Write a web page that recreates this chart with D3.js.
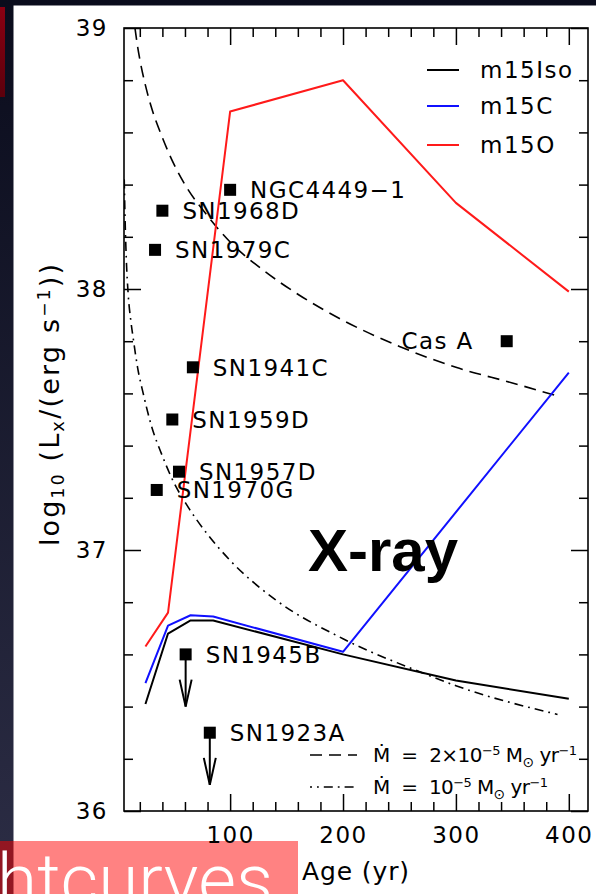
<!DOCTYPE html>
<html><head><meta charset="utf-8">
<script src="https://cdn.jsdelivr.net/npm/d3@7"></script>
<style>
html,body{margin:0;padding:0;background:#0b0d1e;}
svg{display:block;}
</style></head>
<body>
<script>
// ---------- DATA ----------
const xTickLabels = [100, 200, 300, 400];
const yTickLabels = [36, 37, 38, 39];

const seriesNames = ["m15Iso", "m15C", "m15O"];
const seriesColors = ["#000000", "#1010ff", "#ff1a1a"];

const ages_m15Iso = [25, 45, 65, 85, 200, 300, 400];
const lx_m15Iso   = [36.41, 36.68, 36.73, 36.73, 36.60, 36.50, 36.43];

const ages_m15C = [25, 45, 65, 85, 200, 400];
const lx_m15C   = [36.49, 36.71, 36.75, 36.745, 36.61, 37.68];

const ages_m15O = [25, 45, 100, 200, 300, 400];
const lx_m15O   = [36.63, 36.76, 38.68, 38.80, 38.33, 37.99];

// Mdot = 2e-5 Msun/yr (dashed)
const ages_md2 = [15.7, 18, 20, 25, 30, 40, 50, 60, 80, 100, 130, 160, 200, 250, 300, 350, 390];
const lx_md2   = [39.0, 38.93, 38.88, 38.78, 38.70, 38.58, 38.48, 38.40, 38.28, 38.18, 38.07, 37.98, 37.88, 37.78, 37.70, 37.64, 37.59];

// Mdot = 1e-5 Msun/yr (dash-dot)
const ages_md1 = [6.2, 7, 8, 9.7, 12, 14.2, 18, 23, 30, 40, 50, 62, 80, 100, 140, 200, 270, 300, 390];
const lx_md1   = [38.42, 38.26, 38.12, 37.98, 37.88, 37.81, 37.70, 37.60, 37.48, 37.36, 37.26, 37.17, 37.06, 36.96, 36.81, 36.66, 36.53, 36.48, 36.37];

// Observed supernovae
const snNames = ["NGC4449\u22121", "SN1968D", "SN1979C", "SN1941C", "SN1959D", "SN1957D", "SN1970G", "Cas A", "SN1945B", "SN1923A"];
const snAges  = [100, 40, 33.5, 67, 48.8, 54.7, 35, 345, 60.6, 82];
const snLx    = [38.38, 38.30, 38.15, 37.70, 37.50, 37.30, 37.23, 37.80, 36.60, 36.30];
const snUpper = [false, false, false, false, false, false, false, false, true, true];
const upperArrowDex = 0.2;

// ---------- LAYOUT ----------
const W = 596, H = 894;
const L = 124, R = 588, T = 28, B = 811;
const FONT = "'DejaVu Sans', 'Liberation Sans', sans-serif";

const svg = d3.select("body").append("svg").attr("width", W).attr("height", H);
const defs = svg.append("defs");
const bg = defs.append("linearGradient").attr("id", "bg").attr("x1", 0).attr("y1", 0).attr("x2", 0).attr("y2", 1);
bg.append("stop").attr("offset", "0%").attr("stop-color", "#0a0c1c");
bg.append("stop").attr("offset", "100%").attr("stop-color", "#2c2d45");
const rg = defs.append("linearGradient").attr("id", "rg").attr("x1", 0).attr("y1", 0).attr("x2", 0).attr("y2", 1);
rg.append("stop").attr("offset", "0%").attr("stop-color", "#8a0012");
rg.append("stop").attr("offset", "100%").attr("stop-color", "#5c000c");
defs.append("clipPath").attr("id", "plotclip").append("rect")
  .attr("x", L).attr("y", T).attr("width", R - L).attr("height", B - T);

svg.append("rect").attr("width", W).attr("height", H).attr("fill", "url(#bg)");
svg.append("rect").attr("x", 0).attr("y", 7).attr("width", 5).attr("height", 90).attr("fill", "url(#rg)");
svg.append("rect").attr("x", 13.5).attr("y", 5.5).attr("width", W - 13.5).attr("height", H - 5.5).attr("fill", "#ffffff");

// bottom slide title box
svg.append("rect").attr("x", 0).attr("y", 841).attr("width", 298).attr("height", H - 841)
  .attr("fill", "rgba(255,0,0,0.49)");
svg.append("text").attr("x", 273).attr("y", 905).attr("text-anchor", "end")
  .attr("font-family", "Roboto, 'Open Sans', 'Liberation Sans', sans-serif").attr("font-weight", 300)
  .attr("font-size", 73).attr("fill", "#ffffff").text("Lightcurves");

// ---------- SCALES ----------
const x = d3.scaleLinear().domain([6, 417]).range([L, R]);
const y = d3.scaleLinear().domain([36, 39]).range([B, T]);

const xMinor = d3.range(20, 417, 20).filter(v => v % 100 !== 0);
const yMinor = d3.range(180, 196).map(v => v / 5).filter(v => v > 36 && v < 39 && Math.abs(v - Math.round(v)) > 1e-6);

function styleAxis(g) {
  g.select(".domain").remove();
  g.selectAll(".tick line").attr("stroke", "#000").attr("stroke-width", 1.5);
  g.selectAll(".tick text").attr("font-family", FONT).attr("font-size", 23)
    .attr("fill", "#000").attr("letter-spacing", 1.5);
}

// bottom
svg.append("g").attr("transform", `translate(0,${B})`)
  .call(d3.axisBottom(x).tickValues(xTickLabels).tickSizeInner(-17).tickSizeOuter(0).tickPadding(16).tickFormat(d3.format("d")))
  .call(styleAxis);
svg.append("g").attr("transform", `translate(0,${B})`)
  .call(d3.axisBottom(x).tickValues(xMinor).tickSizeInner(-9).tickSizeOuter(0).tickFormat(""))
  .call(styleAxis);
// top
svg.append("g").attr("transform", `translate(0,${T})`)
  .call(d3.axisTop(x).tickValues(xTickLabels).tickSizeInner(-17).tickSizeOuter(0).tickFormat(""))
  .call(styleAxis);
svg.append("g").attr("transform", `translate(0,${T})`)
  .call(d3.axisTop(x).tickValues(xMinor).tickSizeInner(-9).tickSizeOuter(0).tickFormat(""))
  .call(styleAxis);
// left
svg.append("g").attr("transform", `translate(${L},0)`)
  .call(d3.axisLeft(y).tickValues(yTickLabels).tickSizeInner(-17).tickSizeOuter(0).tickPadding(16).tickFormat(d3.format("d")))
  .call(styleAxis);
svg.append("g").attr("transform", `translate(${L},0)`)
  .call(d3.axisLeft(y).tickValues(yMinor).tickSizeInner(-9).tickSizeOuter(0).tickFormat(""))
  .call(styleAxis);
// right
svg.append("g").attr("transform", `translate(${R},0)`)
  .call(d3.axisRight(y).tickValues(yTickLabels).tickSizeInner(-17).tickSizeOuter(0).tickFormat(""))
  .call(styleAxis);
svg.append("g").attr("transform", `translate(${R},0)`)
  .call(d3.axisRight(y).tickValues(yMinor).tickSizeInner(-9).tickSizeOuter(0).tickFormat(""))
  .call(styleAxis);

// frame
svg.append("rect").attr("x", L).attr("y", T).attr("width", R - L).attr("height", B - T)
  .attr("fill", "none").attr("stroke", "#000").attr("stroke-width", 1.6);

// ---------- CURVES ----------
const plot = svg.append("g").attr("clip-path", "url(#plotclip)");
const zip = (a, b) => a.map((v, i) => [v, b[i]]);
const lineLin = d3.line().x(d => x(d[0])).y(d => y(d[1]));
const lineSmooth = d3.line().x(d => x(d[0])).y(d => y(d[1])).curve(d3.curveMonotoneX);

const DASH = "12,7";
const DASHDOT = "9,5,1.8,5";

plot.append("path").datum(zip(ages_md2, lx_md2)).attr("d", lineSmooth)
  .attr("fill", "none").attr("stroke", "#000").attr("stroke-width", 1.6).attr("stroke-dasharray", DASH);
plot.append("path").datum(zip(ages_md1, lx_md1)).attr("d", lineSmooth)
  .attr("fill", "none").attr("stroke", "#000").attr("stroke-width", 1.6).attr("stroke-dasharray", DASHDOT);

const seriesData = [zip(ages_m15Iso, lx_m15Iso), zip(ages_m15C, lx_m15C), zip(ages_m15O, lx_m15O)];
seriesData.forEach((d, i) => {
  plot.append("path").datum(d).attr("d", lineLin)
    .attr("fill", "none").attr("stroke", seriesColors[i]).attr("stroke-width", 2)
    .attr("stroke-linejoin", "round");
});

// ---------- OBSERVATIONS ----------
const obs = snNames.map((n, i) => ({ name: n, age: snAges[i], lx: snLx[i], upper: snUpper[i] }));
const og = svg.append("g");
obs.forEach(d => {
  const cx = x(d.age), cy = y(d.lx);
  if (d.upper) {
    const ty = y(d.lx - upperArrowDex);
    og.append("line").attr("x1", cx).attr("x2", cx).attr("y1", cy).attr("y2", ty)
      .attr("stroke", "#000").attr("stroke-width", 2);
    og.append("path").attr("d", `M${cx - 6},${ty - 27}L${cx},${ty}L${cx + 6},${ty - 27}`)
      .attr("fill", "none").attr("stroke", "#000").attr("stroke-width", 2);
  }
  og.append("rect").attr("x", cx - 6).attr("y", cy - 6).attr("width", 12).attr("height", 12).attr("fill", "#000");
  const left = d.name === "Cas A";
  og.append("text").attr("x", left ? cx - 33 : cx + 20).attr("y", cy).attr("dy", "0.36em")
    .attr("text-anchor", left ? "end" : "start")
    .attr("font-family", FONT).attr("font-size", 23).attr("letter-spacing", 1.4).attr("fill", "#000")
    .text(d.name);
});

// ---------- LEGENDS ----------
const lg = svg.append("g");
const legY = [70, 106, 145];
seriesNames.forEach((n, i) => {
  lg.append("line").attr("x1", 427).attr("x2", 459).attr("y1", legY[i]).attr("y2", legY[i])
    .attr("stroke", seriesColors[i]).attr("stroke-width", 2);
  lg.append("text").attr("x", 480).attr("y", legY[i]).attr("dy", "0.36em")
    .attr("font-family", FONT).attr("font-size", 23).attr("letter-spacing", 1.5).attr("fill", "#000").text(n);
});

function fitWidth(t, target) {
  const n = t.text().length;
  const len = t.node().getComputedTextLength();
  t.attr("letter-spacing", ((target - len) / Math.max(1, n - 1)).toFixed(2));
}

// Mdot legend
const mdY = [755, 787];
lg.append("line").attr("x1", 310).attr("x2", 357).attr("y1", mdY[0]).attr("y2", mdY[0])
  .attr("stroke", "#000").attr("stroke-width", 1.6).attr("stroke-dasharray", DASH);
lg.append("line").attr("x1", 310).attr("x2", 357).attr("y1", mdY[1]).attr("y2", mdY[1])
  .attr("stroke", "#000").attr("stroke-width", 1.6).attr("stroke-dasharray", DASHDOT).attr("stroke-dashoffset", 7);

function mdotText(yy, parts, target) {
  const t = lg.append("text").attr("x", 373).attr("y", yy).attr("dy", "0.36em")
    .attr("font-family", FONT).attr("font-size", 20).attr("fill", "#000")
    .attr("xml:space", "preserve").style("white-space", "pre");
  parts.forEach(p => {
    const s = t.append("tspan").text(p[0]);
    if (p[1] === "sup") s.attr("font-size", 13).attr("baseline-shift", "55%");
    if (p[1] === "sub") s.attr("font-size", 14).attr("baseline-shift", "-35%");
  });
  fitWidth(t, target);
}
mdotText(mdY[0], [["\u1E40  =  2\u00D710"], ["\u22125", "sup"], [" M"], ["\u2299", "sub"], [" yr"], ["\u22121", "sup"]], 204);
mdotText(mdY[1], [["\u1E40  =  10"], ["\u22125", "sup"], [" M"], ["\u2299", "sub"], [" yr"], ["\u22121", "sup"]], 175);

// X-ray annotation
svg.append("text").attr("x", x(169)).attr("y", y(36.92))
  .attr("font-family", "'Liberation Sans', Arial, sans-serif").attr("font-weight", "bold")
  .attr("font-size", 60).attr("fill", "#000").text("X-ray");

// axis titles
const xt = svg.append("text").attr("x", (L + R) / 2).attr("y", 880).attr("text-anchor", "middle")
  .attr("font-family", FONT).attr("font-size", 25).attr("fill", "#000").text("Age (yr)");
fitWidth(xt, 107);

const yt = svg.append("text").attr("transform", "translate(59,404) rotate(-90)").attr("text-anchor", "middle")
  .attr("font-family", FONT).attr("font-size", 27).attr("fill", "#000")
  .attr("xml:space", "preserve").style("white-space", "pre");
yt.append("tspan").text("log");
yt.append("tspan").text("10").attr("font-size", 17).attr("baseline-shift", "-30%");
yt.append("tspan").text(" (L");
yt.append("tspan").text("x").attr("font-size", 18).attr("baseline-shift", "-30%");
yt.append("tspan").text("/(erg s");
yt.append("tspan").text("\u22121").attr("font-size", 17).attr("baseline-shift", "55%");
yt.append("tspan").text("))");
fitWidth(yt, 282);
</script>
</body></html>
